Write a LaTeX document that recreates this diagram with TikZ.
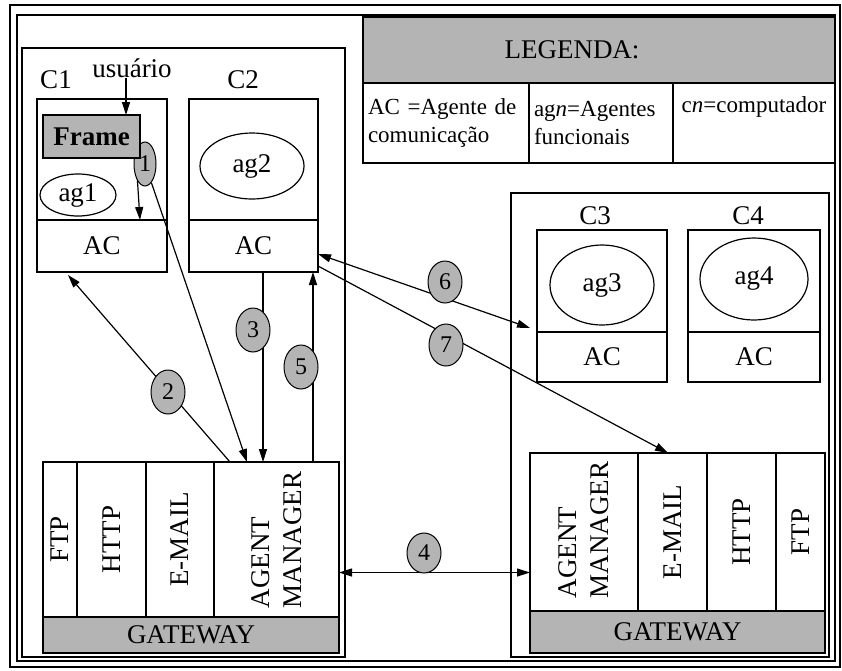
\documentclass[tikz,border=0pt]{standalone}
\usepackage{fontspec}
\setmainfont{Liberation Serif}
\usepackage{graphicx}
\usetikzlibrary{positioning, arrows.meta, shapes.geometric, backgrounds}
\definecolor{dotgray}{HTML}{B4B4B4}
\tikzset{
  pcbox/.style={draw, line width=1.2pt, inner sep=0pt, outer sep=0pt, font=\fontsize{27}{32}\selectfont},
  agent/.style={draw, ellipse, line width=1.2pt, inner sep=0pt, font=\fontsize{27}{32}\selectfont},
  col/.style={draw, line width=1.2pt, inner sep=0pt, outer sep=0pt, font=\fontsize{27}{32}\selectfont},
  band/.style={col, fill=dotgray},
  numcirc/.style={draw, ellipse, line width=1pt, fill=dotgray, inner sep=0pt, minimum width=34pt, minimum height=44pt, font=\fontsize{24}{28}\selectfont},
  lbl/.style={inner sep=0pt, font=\fontsize{27}{32}\selectfont},
  legcell/.style={draw, line width=1.2pt, inner sep=5pt, outer sep=0pt, align=left, minimum height=80pt, font=\fontsize{23}{28}\selectfont},
  arrow/.style={-{Triangle[length=13pt, width=8pt]}, line width=1.2pt},
  twoway/.style={{Triangle[length=13pt, width=8pt]}-{Triangle[length=13pt, width=8pt]}, line width=1.2pt},
}

\begin{document}
\begin{tikzpicture}[x=1pt, y=-1pt]
  \useasboundingbox (0,0) rectangle (842,670);
  % double frame round everything
  \draw[line width=1.8pt] (10,5) rectangle (840,667);
  \draw[line width=2.4pt] (17,15) rectangle (835,661);

  % the two sites
  \node[pcbox, minimum width=323pt, minimum height=609pt, anchor=north west] (left) at (22,48) {};
  \node[pcbox, minimum width=318pt, minimum height=464pt, anchor=north west] (right) at (511,193) {};

  % legend
  \node[pcbox, fill=dotgray, minimum width=472pt, minimum height=66pt, anchor=north west] (leghead) at (363,17) {};
  \node[lbl] (legtitle) at (572,50) {LEGENDA:};
  \node[legcell, text width=156pt, anchor=north west] (leg1) at (leghead.south west) {AC =Agente de\\comunicação};
  \node[legcell, text width=134pt, right=0pt of leg1] (leg2) {ag\textit{n}=Agentes\\funcionais};
  \node[legcell, text width=152pt, align=center, right=0pt of leg2] (leg3) {c\textit{n}=computador\\\strut};

  % C1
  \node[pcbox, minimum width=130pt, minimum height=173pt, anchor=north west] (c1) at (37,99) {};
  \node[pcbox, minimum width=130pt, minimum height=52pt, anchor=south west] (ac1) at (c1.south west) {AC};
  \node[lbl] (c1name) at (56,80) {C1};
  \node[lbl] (usr) at (132,68) {usuário};
  \node[numcirc, minimum width=22pt] (n1) at (145,164) {1};
  \node[pcbox, fill=dotgray, minimum width=97pt, minimum height=43pt, below right=16pt and 6pt of c1.north west,
        font=\fontsize{27}{32}\selectfont\bfseries] (frame) {Frame};
  \node[agent, minimum width=76pt, minimum height=42pt] (ag1) at (78,195) {ag1};

  % C2
  \node[pcbox, minimum width=129pt, minimum height=173pt, right=22pt of c1] (c2) {};
  \node[pcbox, minimum width=129pt, minimum height=52pt, anchor=south west] (ac2) at (c2.south west) {AC};
  \node[lbl] (c2name) at (243,80) {C2};
  \node[agent, minimum width=104pt, minimum height=66pt] (ag2) at (252,166) {ag2};

  % C3 and C4
  \node[pcbox, minimum width=130pt, minimum height=152pt, anchor=north west] (c3) at (537,230) {};
  \node[pcbox, minimum width=130pt, minimum height=50pt, anchor=south west] (ac3) at (c3.south west) {AC};
  \node[lbl] (c3name) at (595,216) {C3};
  \node[agent, minimum width=104pt, minimum height=80pt] (ag3) at (602,285) {ag3};
  \node[pcbox, minimum width=132pt, minimum height=152pt, right=21pt of c3] (c4) {};
  \node[pcbox, minimum width=132pt, minimum height=50pt, anchor=south west] (ac4) at (c4.south west) {AC};
  \node[lbl] (c4name) at (748,216) {C4};
  \node[agent, minimum width=108pt, minimum height=82pt] (ag4) at (754,279) {ag4};

  % gateway, left site
  \node[col, minimum width=34pt, minimum height=155pt, anchor=north west] (ftp1) at (43,462) {\rotatebox{90}{FTP}};
  \node[col, minimum width=69pt, minimum height=155pt, right=0pt of ftp1] (http1) {\rotatebox{90}{HTTP}};
  \node[col, minimum width=68pt, minimum height=155pt, right=0pt of http1] (mail1) {\rotatebox{90}{E-MAIL}};
  \node[col, minimum width=125pt, minimum height=155pt, right=0pt of mail1] (am1)
    {\rotatebox{90}{\parbox{137pt}{\raggedright AGENT\\MANAGER}}};
  \node[band, minimum width=296pt, minimum height=36pt, anchor=north west] (gate1) at (ftp1.south west) {GATEWAY};

  % gateway, right site
  \node[col, minimum width=108pt, minimum height=158pt, anchor=north west] (am2) at (530,453)
    {\rotatebox{90}{\parbox{132pt}{\raggedright AGENT\\MANAGER}}};
  \node[col, minimum width=69pt, minimum height=158pt, right=0pt of am2] (mail2) {\rotatebox{90}{E-MAIL}};
  \node[col, minimum width=69pt, minimum height=158pt, right=0pt of mail2] (http2) {\rotatebox{90}{HTTP}};
  \node[col, minimum width=49pt, minimum height=158pt, right=0pt of http2] (ftp2) {\rotatebox{90}{FTP}};
  \node[band, minimum width=295pt, minimum height=42pt, anchor=north west] (gate2) at (am2.south west) {GATEWAY};

  % step numbers
  \node[numcirc] (n2) at (168,392) {2};
  \node[numcirc] (n3) at (253,330) {3};
  \node[numcirc, minimum height=40pt] (n4) at (424,553) {4};
  \node[numcirc] (n5) at (301,367) {5};
  \node[numcirc, minimum height=42pt] (n6) at (445,282) {6};
  \node[numcirc, minimum height=42pt] (n7) at (446,345) {7};

  % message flow
  \begin{scope}[on background layer]
    \draw[arrow] ([xshift=-6pt]usr.south) coordinate (u0) -- (u0 |- frame.north);
    \draw[arrow] ([xshift=-4pt]frame.south east) -- ([xshift=-27pt]ac1.north east);
    \draw[arrow] (n1) -- ([xshift=33pt]am1.north west);
    \draw[arrow] ([xshift=16pt]am1.north west) -- ([xshift=31pt, yshift=-3pt]c1.south west);
    \draw[arrow] ([xshift=74pt]ac2.south west) coordinate (a3) -- (a3 |- am1.north);
    \draw[arrow] ([xshift=99pt]am1.north west) coordinate (a5) -- (a5 |- ac2.south);
    \draw[twoway] ([yshift=-33pt]am1.east) coordinate (a4) -- (a4 -| am2.west);
    \draw[twoway] ([yshift=-8pt]ac2.east) -- ([xshift=-7pt, yshift=4pt]ac3.north west);
    \draw[arrow] ([yshift=-20pt]ac2.east) -- ([xshift=138pt]am2.north west);
  \end{scope}
\end{tikzpicture}
\end{document}
